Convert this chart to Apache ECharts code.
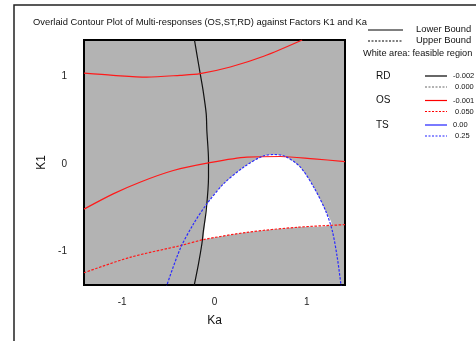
<!DOCTYPE html>
<html><head><meta charset="utf-8">
<script src="https://cdn.jsdelivr.net/npm/echarts@6/dist/echarts.min.js"></script>
<style>html,body{margin:0;padding:0;background:#fff}#c{width:476px;height:341px}</style>
</head><body><div id="c"></div>
<script>
// ---- data (factor coordinates Ka, K1) ----
const titleText = 'Overlaid Contour Plot of Multi-responses (OS,ST,RD) against Factors K1 and Ka';
const xTicks = [-1, 0, 1];
const yTicks = [-1, 0, 1];
const xName = 'Ka';
const yName = 'K1';
const rdLower = [[-0.225,-1.42],[-0.174,-1.15],[-0.137,-0.92],[-0.12,-0.767],[-0.09,-0.537],[-0.065,-0.154],[-0.065,0.04],[-0.083,0.383],[-0.09,0.575],[-0.125,0.85],[-0.155,1.034],[-0.19,1.25],[-0.217,1.42]];
const osLowerA = [[-1.414,1.04],[-1.098,1.015],[-0.735,0.995],[-0.373,1.015],[-0.155,1.034],[0.171,1.11],[0.533,1.233],[0.95,1.42]];
const osLowerB = [[-1.414,-0.52],[-1.098,-0.345],[-0.808,-0.211],[-0.446,-0.077],[-0.065,0.011],[0.352,0.077],[0.714,0.084],[1.076,0.057],[1.414,0.026]];
const osUpper = [[-1.414,-1.25],[-0.916,-1.073],[-0.373,-0.939],[-0.12,-0.87],[0.352,-0.786],[0.895,-0.728],[1.414,-0.698]];
const tsUpper = [[-0.525,-1.42],[-0.373,-0.977],[-0.228,-0.69],[-0.083,-0.46],[0.098,-0.23],[0.315,-0.039],[0.515,0.084],[0.641,0.107],[0.768,0.084],[0.931,-0.039],[1.076,-0.269],[1.203,-0.537],[1.276,-0.767],[1.33,-1.073],[1.374,-1.42]];
const feasible = [[-0.12,-0.87],[-0.1,-0.65],[-0.085,-0.47],[0.098,-0.23],[0.315,-0.039],[0.515,0.084],[0.641,0.107],[0.768,0.084],[0.931,-0.039],[1.076,-0.269],[1.203,-0.537],[1.265,-0.70],[0.895,-0.728],[0.352,-0.786],[-0.12,-0.87]];
const legendBounds = ['Lower Bound', 'Upper Bound'];
const legendNote = 'White area: feasible region';
const responses = ['RD', 'OS', 'TS'];
const lowerVals = ['-0.002', '-0.001', '0.00'];
const upperVals = ['0.000', '0.050', '0.25'];
const respColors = ['#000000', '#ff0000', '#2020ff'];

const chart = echarts.init(document.getElementById('c'), null, {renderer: 'canvas'});
const FONT = 'Liberation Sans, Arial, sans-serif';

function lineSeries(data, color, dashed) {
  return {
    type: 'line', data: data, showSymbol: false, smooth: 0.3, clip: true,
    lineStyle: {color: color, width: 1.2, type: dashed ? [2.5, 1.5] : 'solid'},
    z: 5, silent: true
  };
}

const graphics = [
  {type: 'rect', shape: {x: 14, y: 5, width: 500, height: 400}, style: {fill: 'none', stroke: '#222', lineWidth: 1.5}, z: 0},
  {type: 'text', left: 33, top: 17.5, style: {text: titleText, font: '9.4px ' + FONT, fill: '#111'}},
  {type: 'line', shape: {x1: 368, y1: 30, x2: 403, y2: 30}, style: {stroke: '#000', lineWidth: 1}},
  {type: 'line', shape: {x1: 368, y1: 41, x2: 403, y2: 41}, style: {stroke: '#000', lineWidth: 1, lineDash: [2, 1.5]}},
  {type: 'text', left: 416, top: 24.5, style: {text: legendBounds[0], font: '9.4px ' + FONT, fill: '#111'}},
  {type: 'text', left: 416, top: 35.5, style: {text: legendBounds[1], font: '9.4px ' + FONT, fill: '#111'}},
  {type: 'text', left: 363, top: 49, style: {text: legendNote, font: '9.2px ' + FONT, fill: '#111'}}
];
responses.forEach(function (r, i) {
  const y0 = 76 + i * 24.5;
  graphics.push({type: 'text', left: 376, top: y0 - 5, style: {text: r, font: '10px ' + FONT, fill: '#111'}});
  graphics.push({type: 'line', shape: {x1: 425, y1: y0, x2: 447, y2: y0}, style: {stroke: respColors[i], lineWidth: 1.2}});
  graphics.push({type: 'line', shape: {x1: 425, y1: y0 + 11, x2: 447, y2: y0 + 11}, style: {stroke: i === 0 ? '#666' : respColors[i], lineWidth: 1, lineDash: [2, 1.5]}});
  graphics.push({type: 'text', left: 453, top: y0 - 4, style: {text: lowerVals[i], font: '7.5px ' + FONT, fill: '#111'}});
  graphics.push({type: 'text', left: 455, top: y0 + 7, style: {text: upperVals[i], font: '7.5px ' + FONT, fill: '#111'}});
});

chart.setOption({
  animation: false,
  backgroundColor: '#fff',
  grid: {left: 84, top: 40, width: 261, height: 245, show: true, backgroundColor: '#b3b3b3', borderColor: '#000', borderWidth: 2, z: 3},
  xAxis: {
    type: 'value', min: -1.414, max: 1.414,
    name: xName, nameLocation: 'middle', nameGap: 30,
    nameTextStyle: {fontSize: 12, fontFamily: FONT, color: '#111'},
    splitLine: {show: false}, axisLine: {show: false},
    axisTick: {show: true, inside: false, length: 8, customValues: xTicks, lineStyle: {color: '#444', width: 1.5}},
    axisLabel: {customValues: xTicks, margin: 12, fontSize: 10, fontFamily: FONT, color: '#222'}
  },
  yAxis: {
    type: 'value', min: -1.39, max: 1.42,
    name: yName, nameLocation: 'middle', nameGap: 33, nameRotate: 90,
    nameTextStyle: {fontSize: 12, fontFamily: FONT, color: '#111'},
    splitLine: {show: false}, axisLine: {show: false},
    axisTick: {show: true, inside: false, length: 10, customValues: yTicks, lineStyle: {color: '#444', width: 1.5}},
    axisLabel: {customValues: yTicks, margin: 17, fontSize: 10, fontFamily: FONT, color: '#222'}
  },
  graphic: graphics,
  series: [
    {
      type: 'custom', silent: true, z: 4, clip: true,
      renderItem: function (params, api) {
        if (params.dataIndex !== 0) return null;
        const pts = feasible.map(function (p) { return api.coord(p); });
        return {type: 'polygon', shape: {points: pts, smooth: 0.25}, style: {fill: '#ffffff', stroke: 'none'}};
      },
      data: [0]
    },
    lineSeries(rdLower, '#111', false),
    lineSeries(osLowerA, '#ff1a1a', false),
    lineSeries(osLowerB, '#ff1a1a', false),
    lineSeries(osUpper, '#ff1a1a', true),
    lineSeries(tsUpper, '#2a2aff', true)
  ]
});
</script></body></html>
